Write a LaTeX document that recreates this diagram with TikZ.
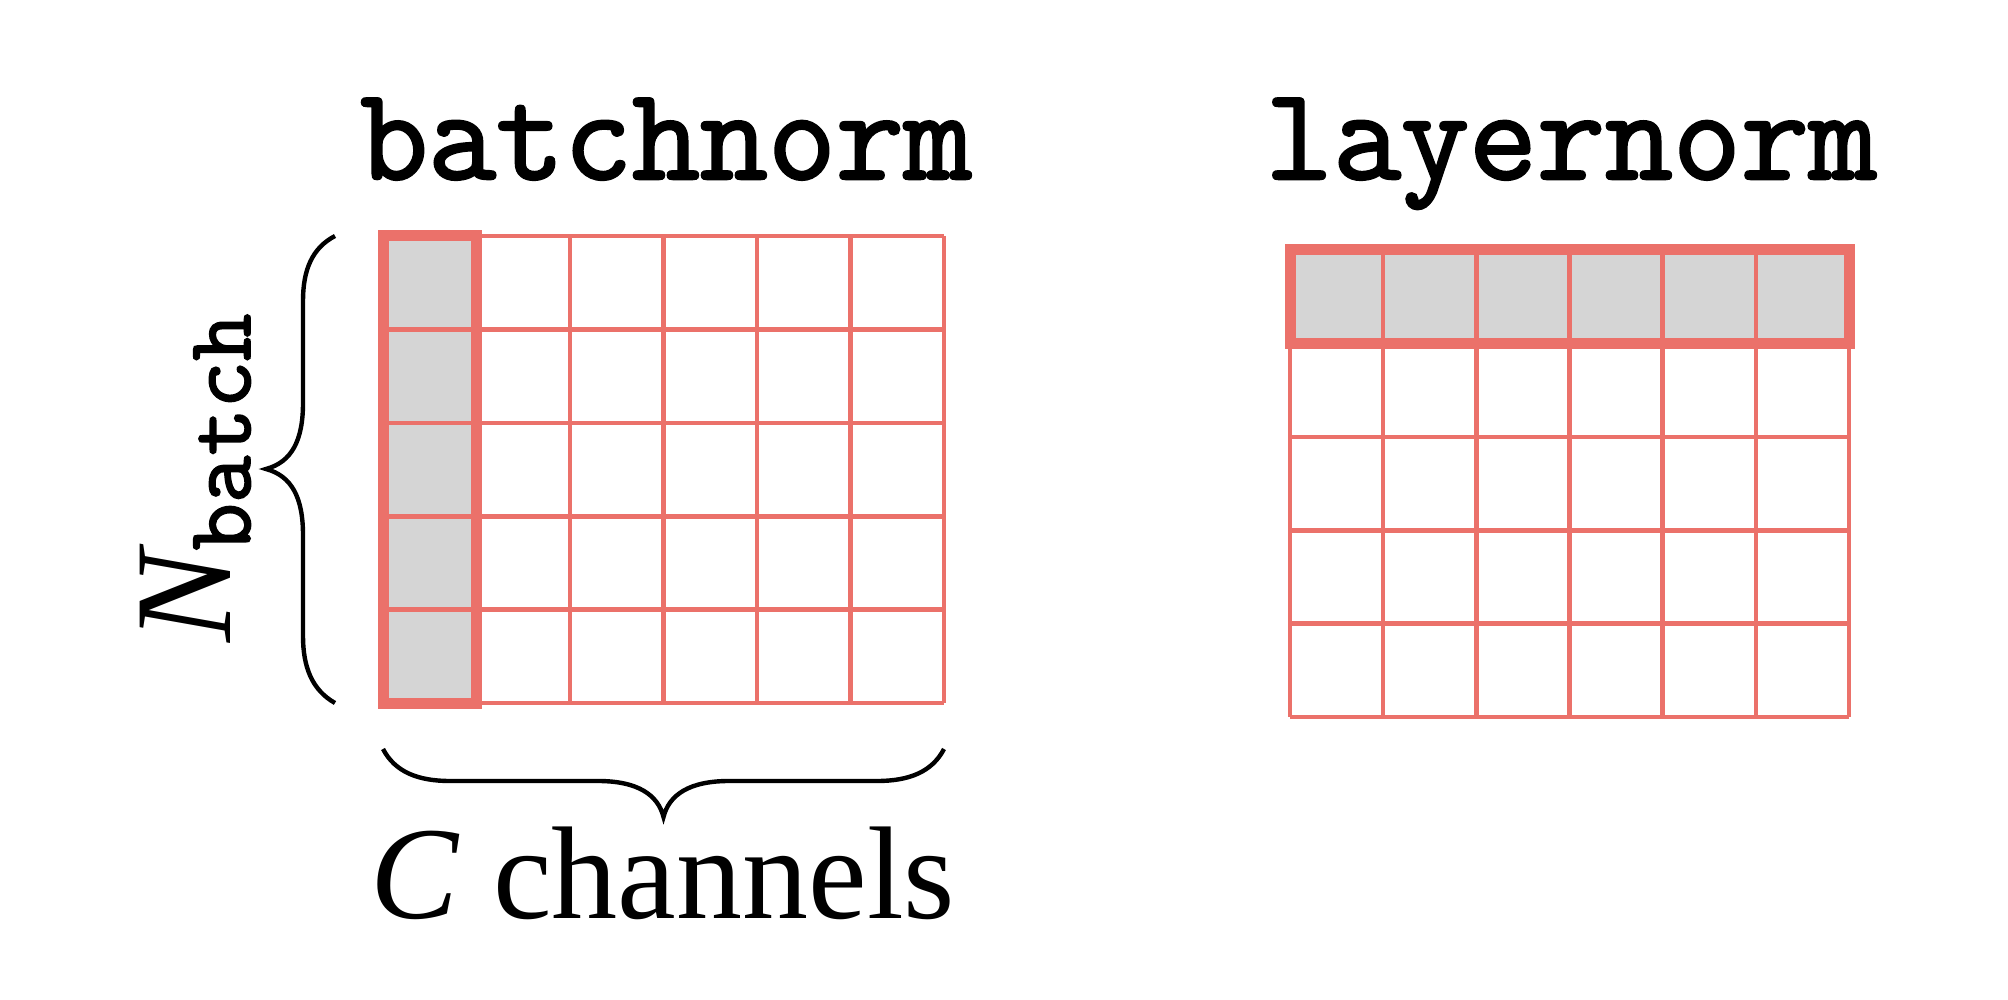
\documentclass[tikz,border=0pt]{standalone}
\usepackage{fontspec}
\setmainfont{Liberation Serif}
\newfontfamily\ttheavy{Latin Modern Mono}[FakeBold=2]
\definecolor{gridred}{RGB}{235,113,106}
\definecolor{cellgray}{RGB}{213,213,213}
\tikzset{
  gline/.style={draw=gridred, line width=2.3pt},
  gbox/.style={draw=gridred, line width=5.5pt},
  bracestyle/.style={draw=black, line width=2.2pt},
  ttlabel/.style={anchor=base, inner sep=0pt, font=\fontsize{66}{66}\selectfont\ttheavy},
}
\begin{document}
\begin{tikzpicture}[x=0.5pt,y=-0.5pt]
\useasboundingbox (0,0) rectangle (2008,1000);
% ---------- left grid (batchnorm) ----------
\fill[cellgray] (383,236) rectangle (476.5,703);
\foreach \i in {0,...,6} \draw[gline] (383+\i*93.5,236) -- (383+\i*93.5,703);
\foreach \j in {0,...,5} \draw[gline] (383,236+\j*93.4) -- (944,236+\j*93.4);
\draw[gbox] (383,236) rectangle (476.5,703);
% ---------- right grid (layernorm) ----------
\fill[cellgray] (1290,250) rectangle (1849,343.4);
\foreach \i in {0,...,6} \draw[gline] (1290+\i*93.17,250) -- (1290+\i*93.17,717);
\foreach \j in {0,...,5} \draw[gline] (1290,250+\j*93.4) -- (1849,250+\j*93.4);
\draw[gbox] (1290,250) rectangle (1849,343.4);
% ---------- titles ----------
\node[ttlabel] (bn) at (666,179) {batchnorm};
\node[ttlabel] (ln) at (1571,179) {layernorm};
% ---------- left brace ----------
\draw[bracestyle] (335,236) .. controls (312,248) and (303,270) .. (303,301)
  -- (303,403) .. controls (303,440) and (292,462) .. (266,469)
  .. controls (292,476) and (303,498) .. (303,535)
  -- (303,636) .. controls (303,667) and (312,690) .. (335,703);
\node[anchor=base, rotate=90, inner sep=0pt] (nb) at (230,478)
  {{\fontsize{69}{69}\selectfont\itshape N}\raisebox{-10pt}{\fontsize{46}{46}\selectfont\ttheavy batch}};
% ---------- bottom brace ----------
\draw[bracestyle] (383,749) .. controls (395,772) and (418,781) .. (450,781)
  -- (598,781) .. controls (638,781) and (658,795) .. (663.5,817)
  .. controls (669,795) and (689,781) .. (729,781)
  -- (877,781) .. controls (909,781) and (932,772) .. (944,749);
\node[anchor=base, inner sep=0pt, font=\fontsize{66}{66}\selectfont] (cc) at (663,918) {\textit{C} channels};
\end{tikzpicture}
\end{document}
